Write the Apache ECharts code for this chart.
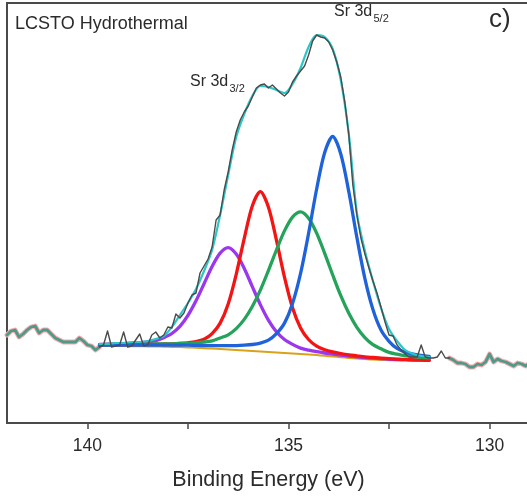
<!DOCTYPE html>
<html>
<head>
<meta charset="utf-8">
<script src="https://cdn.jsdelivr.net/npm/echarts@6/dist/echarts.min.js"></script>
<style>
  html, body { margin: 0; padding: 0; background: #fff; }
  #chart { width: 527px; height: 499px; }
</style>
</head>
<body>
<div id="chart"></div>
<script>
// Sr 3d XPS spectrum of LCSTO (hydrothermal), intensity in arbitrary units

// x-axis tick marks and labelled ticks (binding energy, eV)
const tickValues = [140, 137.5, 135, 132.5, 130];
const tickLabels = [140, 135, 130];

// energies of the fitted curves (eV)
const fitEnergy = [139.7, 139.5, 139.3, 139.1, 138.9, 138.7, 138.5, 138.3, 138.1, 137.9,
  137.7, 137.5, 137.3, 137.1, 136.9, 136.7, 136.5, 136.3, 136.1, 135.9,
  135.7, 135.5, 135.3, 135.1, 134.9, 134.7, 134.5, 134.3, 134.1, 133.9,
  133.7, 133.5, 133.3, 133.1, 132.9, 132.7, 132.5, 132.3, 132.1, 131.9,
  131.7, 131.5];

// Shirley-type background
const background = [77.0, 77.0, 76.9, 76.9, 76.8, 76.7, 76.6, 76.5, 76.3, 76.1,
  75.9, 75.6, 75.2, 74.8, 74.4, 73.9, 73.4, 72.9, 72.4, 71.9,
  71.4, 70.9, 70.5, 70.1, 69.6, 69.1, 68.5, 67.9, 67.2, 66.5,
  65.8, 65.1, 64.5, 63.9, 63.5, 63.1, 62.8, 62.6, 62.4, 62.2,
  62.1, 62.0];

// fitted components (height above background)
const peakPurple = [1.6, 1.8, 2.1, 2.4, 2.8, 3.4, 4.4, 5.8, 9.0, 13.4,
  20.7, 32.0, 47.0, 64.5, 82.1, 96.0, 102, 96.0, 82.1, 64.5,
  47.0, 32.0, 20.7, 13.4, 9.0, 5.8, 4.4, 3.4, 2.8, 2.4,
  2.1, 1.8, 1.6, 1.4, 1.3, 1.2, 1.1, 1.0, 0.9, 0.8,
  0.7, 0.7];
const peakRed = [1.0, 1.1, 1.2, 1.3, 1.6, 1.7, 2.0, 2.3, 2.7, 3.1,
  3.7, 4.6, 6.1, 8.9, 15.0, 26.0, 45.6, 75.8, 112.3, 145.1,
  160, 145.1, 112.3, 75.8, 45.6, 26.0, 15.0, 8.9, 6.1, 4.6,
  3.7, 3.1, 2.7, 2.3, 2.0, 1.7, 1.6, 1.3, 1.2, 1.1,
  1.0, 0.9];
const peakGreen = [1.4, 1.5, 1.6, 1.7, 1.9, 2.1, 2.3, 2.5, 2.8, 3.1,
  3.6, 4.1, 4.9, 6.2, 7.8, 11.1, 14.8, 21.5, 31.2, 44.6,
  61.5, 81.5, 102.5, 122.0, 136.3, 142, 136.3, 122.0, 102.5, 81.5,
  61.5, 44.6, 31.2, 21.5, 14.8, 11.1, 7.8, 6.2, 4.9, 4.1,
  3.6, 3.1];
const peakBlue = [0.9, 1.0, 1.0, 1.1, 1.2, 1.3, 1.4, 1.5, 1.6, 1.7,
  1.9, 2.2, 2.4, 2.6, 3.0, 3.4, 3.9, 4.5, 5.4, 6.6,
  8.5, 11.9, 18.9, 29.8, 49.9, 80.5, 121.2, 166.1, 203.2, 220,
  203.2, 166.1, 121.2, 80.5, 49.9, 29.8, 18.9, 11.9, 8.5, 6.6,
  5.4, 4.5];

// fit envelope
const envelope = [79, 79, 80, 80, 81, 81, 82, 84, 87, 96,
  108, 120, 134, 152, 173, 208, 248, 286, 309, 327,
  337, 336, 333, 330, 339, 355, 376, 388, 386, 374,
  343, 289, 210, 172, 142, 115, 94, 82, 73, 69,
  67, 66];

// measured spectrum
const rawEnergy = [142.0, 141.9, 141.8, 141.7, 141.6, 141.5, 141.4, 141.3, 141.2, 141.1,
  141.0, 140.9, 140.8, 140.7, 140.6, 140.5, 140.4, 140.3, 140.2, 140.1,
  140.0, 139.9, 139.8, 139.7, 139.6, 139.5, 139.4, 139.3, 139.2, 139.1,
  139.0, 138.9, 138.8, 138.7, 138.6, 138.5, 138.4, 138.3, 138.2, 138.1,
  138.0, 137.9, 137.8, 137.7, 137.6, 137.5, 137.4, 137.3, 137.2, 137.1,
  137.0, 136.9, 136.8, 136.7, 136.6, 136.5, 136.4, 136.3, 136.2, 136.1,
  136.0, 135.9, 135.8, 135.7, 135.6, 135.5, 135.4, 135.3, 135.2, 135.1,
  135.0, 134.9, 134.8, 134.7, 134.6, 134.5, 134.4, 134.3, 134.2, 134.1,
  134.0, 133.9, 133.8, 133.7, 133.6, 133.5, 133.4, 133.3, 133.2, 133.1,
  133.0, 132.9, 132.8, 132.7, 132.6, 132.5, 132.4, 132.3, 132.2, 132.1,
  132.0, 131.9, 131.8, 131.7, 131.6, 131.5, 131.4, 131.3, 131.2, 131.1,
  131.0, 130.9, 130.8, 130.7, 130.6, 130.5, 130.4, 130.3, 130.2, 130.1,
  130.0, 129.9, 129.8, 129.7, 129.6, 129.5, 129.4, 129.3, 129.2, 129.1,
  129.0];
const rawCounts = [88, 92, 93, 86, 89, 93, 96, 97, 90, 93,
  93, 89, 85, 83, 81, 81, 81, 81, 85, 82,
  78, 77, 73, 76, 78, 92, 76, 77, 78, 91,
  76, 77, 83, 89, 77, 78, 88, 91, 85, 88,
  96, 95, 109, 105, 110, 120, 128, 130, 150, 157,
  164, 176, 203, 208, 233, 251, 273, 291, 303, 311,
  317, 326, 335, 338, 339, 335, 338, 334, 330, 327,
  331, 341, 347, 352, 357, 368, 382, 388, 386, 385,
  381, 373, 361, 346, 321, 288, 238, 208, 185, 169,
  155, 142, 130, 116, 101, 88, 87, 78, 73, 69,
  66, 66, 66, 78, 66, 65, 65, 66, 72, 65,
  65, 63, 60, 60, 59, 56, 56, 59, 58, 61,
  69, 61, 64, 62, 61, 59, 57, 60, 59, 57,
  60];

// fitting window limits (eV)
const fitWindow = [131.0, 139.7];

const titleText = 'LCSTO Hydrothermal';
const panelText = 'c)';
const axisTitle = 'Binding Energy (eV)';

const FONT = '"Liberation Sans", Arial, Helvetica, sans-serif';
const INK = '#2b2b2b';
const FRAME = '#4a4a4a';

// pair data for the value/value axes
const onBackground = peak => fitEnergy.map((e, i) => [e, background[i] + peak[i]]);
const inWindow = e => e >= fitWindow[0] && e <= fitWindow[1];
const rawInside = rawEnergy.map((e, i) => [e, inWindow(e) ? rawCounts[i] : '-']);
const rawOutside = rawEnergy.map((e, i) =>
  [e, (e >= fitWindow[1] || e <= fitWindow[0]) ? rawCounts[i] : '-']);

function line(name, data, color, width, smooth) {
  return {
    name, type: 'line', data, smooth: smooth ? 0.3 : false,
    showSymbol: false, symbol: 'none', connectNulls: false,
    lineStyle: { color, width, cap: 'round', join: 'round' },
    emphasis: { disabled: true }, silent: true
  };
}

const chart = echarts.init(document.getElementById('chart'), null, { renderer: 'canvas' });
chart.setOption({
  animation: false,
  backgroundColor: '#ffffff',
  grid: {
    left: 7, top: 3, width: 563, height: 420,
    outerBoundsMode: 'none', containLabel: false,
    show: true, borderColor: FRAME, borderWidth: 2, backgroundColor: 'transparent'
  },
  xAxis: {
    type: 'value', inverse: true, min: 128, max: 142,
    axisLine: { show: true, lineStyle: { color: FRAME, width: 2 } },
    axisTick: { show: true, inside: false, length: 6, customValues: tickValues,
      lineStyle: { color: FRAME, width: 1.5 } },
    axisLabel: { show: true, margin: 14, fontSize: 17.5, color: INK, fontFamily: FONT,
      customValues: tickLabels },
    splitLine: { show: false }
  },
  yAxis: {
    type: 'value', min: 0, max: 420,
    axisLine: { show: true, lineStyle: { color: FRAME, width: 2 } },
    axisTick: { show: false }, axisLabel: { show: false }, splitLine: { show: false }
  },
  series: [
    line('raw halo', rawOutside, '#f3a9ae', 4.8, false),
    line('raw outside', rawOutside, '#4d9a88', 2.8, false),
    line('background', fitEnergy.map((e, i) => [e, background[i]]), '#d9a21c', 2, true),
    line('Sr 3d3/2 (b)', onBackground(peakPurple), '#9b37ef', 3.3, true),
    line('Sr 3d3/2 (a)', onBackground(peakRed), '#f41414', 3.3, true),
    line('Sr 3d5/2 (b)', onBackground(peakGreen), '#25a35b', 3.3, true),
    line('Sr 3d5/2 (a)', onBackground(peakBlue), '#1f63db', 3.3, true),
    line('envelope', fitEnergy.map((e, i) => [e, envelope[i]]), '#2cc6c6', 2.2, true),
    line('raw', rawInside, '#4b4b4b', 1.4, false)
  ],
  graphic: [
    { type: 'text', x: 15, y: 24.5, silent: true,
      style: { text: titleText, fontSize: 18, fontFamily: FONT, fill: INK,
        align: 'left', verticalAlign: 'middle' } },
    { type: 'text', x: 489, y: 20, silent: true,
      style: { text: panelText, fontSize: 26, fontFamily: FONT, fill: INK,
        align: 'left', verticalAlign: 'middle' } },
    { type: 'text', x: 190, y: 81.5, silent: true,
      style: { text: 'Sr 3d', fontSize: 16, fontFamily: FONT, fill: INK,
        align: 'left', verticalAlign: 'middle' } },
    { type: 'text', x: 229.5, y: 89, silent: true,
      style: { text: '3/2', fontSize: 11, fontFamily: FONT, fill: INK,
        align: 'left', verticalAlign: 'middle' } },
    { type: 'text', x: 334, y: 11.5, silent: true,
      style: { text: 'Sr 3d', fontSize: 16, fontFamily: FONT, fill: INK,
        align: 'left', verticalAlign: 'middle' } },
    { type: 'text', x: 373.5, y: 19, silent: true,
      style: { text: '5/2', fontSize: 11, fontFamily: FONT, fill: INK,
        align: 'left', verticalAlign: 'middle' } },
    { type: 'text', x: 268.5, y: 480, silent: true,
      style: { text: axisTitle, fontSize: 21.5, fontFamily: FONT, fill: INK,
        align: 'center', verticalAlign: 'middle' } }
  ]
});
</script>
</body>
</html>
